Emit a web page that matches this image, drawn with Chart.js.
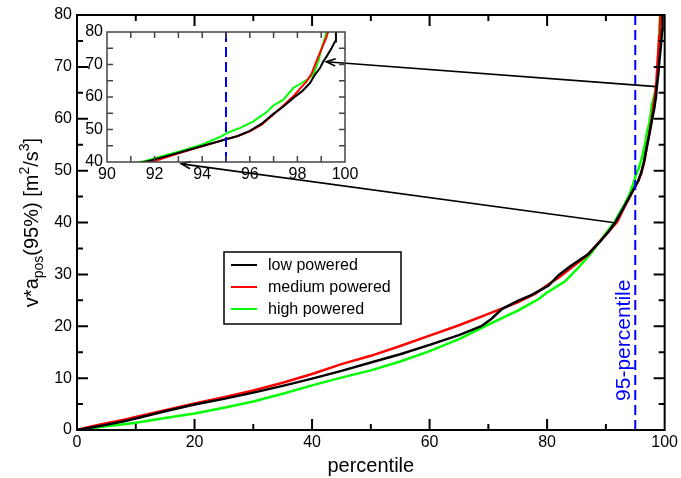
<!DOCTYPE html>
<html><head><meta charset="utf-8">
<script src="https://cdn.jsdelivr.net/npm/chart.js@4.4.0/dist/chart.umd.min.js"></script>
<style>
html,body{margin:0;padding:0;background:#fff;}
#wrap{position:relative;width:681px;height:478px;}
#wrap canvas{position:absolute;left:0;top:0;}
</style></head><body>
<div id="wrap"><canvas id="main" width="681" height="478"></canvas><canvas id="inset" width="681" height="478"></canvas></div>
<script>
// ---- data (percentile -> v*a_pos(95%) in m^2/s^3) ----
const seriesNames = ['low powered', 'medium powered', 'high powered'];
const seriesColors = ['#000000', '#ff0000', '#00ff00'];

const lowX = [0, 2, 5, 8, 10, 15, 20, 25, 30, 35, 40, 45, 50, 55, 60, 65, 68.8, 70.5, 72.3, 75, 77.3, 80.2, 82, 84, 86.9, 89, 90.5, 91.68, 92.5, 93.08, 94, 94.97, 95.5, 96.0, 96.5, 96.99, 97.4, 97.83, 98.2, 98.53, 98.74, 98.95, 99.09, 99.23, 99.44, 99.58, 99.62, 99.66];
const lowY = [0, 0.4, 1.0, 1.7, 2.2, 3.6, 4.9, 6.0, 7.2, 8.5, 9.9, 11.4, 13.0, 14.6, 16.4, 18.3, 20.0, 21.4, 23.3, 24.9, 26.0, 27.8, 29.9, 31.6, 33.8, 36.3, 38.3, 40.2, 41.8, 43.0, 44.9, 46.9, 48.0, 49.6, 51.8, 54.8, 57.0, 59.7, 61.8, 64.3, 66.9, 68.9, 71.0, 72.5, 75.1, 77.1, 80.2, 84];

const medX = [0, 2, 5, 8, 10, 15, 20, 25, 30, 35, 40, 45, 50, 55, 60, 65, 70, 75, 78, 80, 82, 84, 86.9, 89, 90.5, 91.96, 93.08, 94, 94.97, 95.5, 96.0, 96.5, 96.99, 97.4, 97.83, 98.1, 98.39, 98.6, 98.74, 98.9, 99.09, 99.2, 99.3, 99.4];
const medY = [0, 0.6, 1.3, 2.0, 2.5, 3.8, 5.1, 6.3, 7.6, 9.1, 10.8, 12.7, 14.3, 16.2, 18.2, 20.2, 22.4, 24.6, 26.3, 27.9, 29.4, 31.2, 33.7, 36.4, 38.3, 40.2, 42.8, 44.8, 46.9, 48.0, 49.4, 51.5, 54.6, 57.3, 60.2, 62.5, 64.8, 67.2, 69.9, 72.8, 76.1, 78.0, 80.2, 84];

const highX = [0, 2, 5, 8, 10, 15, 20, 25, 30, 35, 40, 45, 50, 55, 60, 65, 70, 75, 78.5, 80, 83, 85, 87.5, 89.5, 91.54, 92.3, 93.08, 94, 94.8, 95.03, 95.6, 96.15, 96.71, 96.99, 97.41, 97.83, 98.11, 98.46, 98.67, 98.88, 99.02, 99.16, 99.23, 99.3];
const highY = [0, 0.3, 0.7, 1.1, 1.4, 2.3, 3.2, 4.3, 5.5, 7.0, 8.6, 10.1, 11.5, 13.2, 15.2, 17.5, 20.3, 23.0, 25.2, 26.5, 28.6, 30.9, 34.1, 37.2, 40.2, 41.8, 43.3, 45.4, 47.9, 48.9, 50.5, 52.5, 55.4, 57.4, 59.2, 62.8, 64.0, 65.6, 66.9, 71.0, 75.1, 78.2, 80.4, 84];

const percentileMark = 95;
const percentileLabel = '95-percentile';
const xTickLabels = ['0', '20', '40', '60', '80', '100'];
const yTickLabels = ['0', '10', '20', '30', '40', '50', '60', '70', '80'];
const insetXTickLabels = ['90', '92', '94', '96', '98', '100'];
const insetYTickLabels = ['40', '50', '60', '70', '80'];
// arrows from main-curve points to the zoomed inset (main-chart data coordinates)
const arrowFrom = [[98.64, 66.2], [91.2, 40.0]];
const arrowTo = [[42.4, 71.0], [17.75, 51.3]];

const FONT = '"Liberation Sans", Arial, Helvetica, sans-serif';

function makeSets(lw) {
  const xs = [lowX, medX, highX], ys = [lowY, medY, highY];
  return seriesNames.map((n, i) => ({
    label: n,
    data: xs[i].map((x, j) => ({x: x, y: ys[i][j]})),
    borderColor: seriesColors[i], backgroundColor: seriesColors[i],
    borderWidth: lw, pointRadius: 0, showLine: true, tension: 0, fill: false
  }));
}

function drawArrow(ctx, x1, y1, x2, y2) {
  ctx.beginPath(); ctx.moveTo(x1, y1); ctx.lineTo(x2, y2); ctx.stroke();
  const ang = Math.atan2(y2 - y1, x2 - x1), L = 10, w = 0.38;
  ctx.beginPath();
  ctx.moveTo(x2 - L * Math.cos(ang - w), y2 - L * Math.sin(ang - w));
  ctx.lineTo(x2, y2);
  ctx.lineTo(x2 - L * Math.cos(ang + w), y2 - L * Math.sin(ang + w));
  ctx.stroke();
}

const mainDeco = {
  id: 'mainDeco',
  afterDatasetsDraw(chart) {
    const {ctx, chartArea: a, scales: {x, y}} = chart;
    ctx.save();
    // dashed percentile line
    const px = x.getPixelForValue(percentileMark);
    ctx.strokeStyle = '#0000ff'; ctx.lineWidth = 2; ctx.setLineDash([10, 5]);
    ctx.beginPath(); ctx.moveTo(px, a.bottom); ctx.lineTo(px, a.top); ctx.stroke();
    ctx.setLineDash([]);
    ctx.save();
    ctx.translate(px - 5, y.getPixelForValue(17.3)); ctx.rotate(-Math.PI / 2);
    ctx.fillStyle = '#0000ff'; ctx.font = '21px ' + FONT; ctx.textAlign = 'center'; ctx.textBaseline = 'alphabetic';
    ctx.fillText(percentileLabel, 0, 0);
    ctx.restore();
    // frame
    ctx.strokeStyle = '#000'; ctx.lineWidth = 2;
    ctx.strokeRect(a.left, a.top, a.width, a.height);
    // inward ticks
    ctx.lineWidth = 2;
    for (let v = 10; v < 100; v += 10) {
      const len = v % 20 === 0 ? 11 : 6, p = x.getPixelForValue(v);
      ctx.beginPath(); ctx.moveTo(p, a.bottom); ctx.lineTo(p, a.bottom - len);
      ctx.moveTo(p, a.top); ctx.lineTo(p, a.top + len); ctx.stroke();
    }
    for (let v = 5; v < 80; v += 5) {
      const len = v % 10 === 0 ? 11 : 6, p = y.getPixelForValue(v);
      ctx.beginPath(); ctx.moveTo(a.left, p); ctx.lineTo(a.left + len, p);
      ctx.moveTo(a.right, p); ctx.lineTo(a.right - len, p); ctx.stroke();
    }
    // arrows
    ctx.lineWidth = 1.6; ctx.strokeStyle = '#000';
    arrowFrom.forEach((f, i) => {
      const t = arrowTo[i];
      drawArrow(ctx, x.getPixelForValue(f[0]), y.getPixelForValue(f[1]), x.getPixelForValue(t[0]), y.getPixelForValue(t[1]));
    });
    // legend
    const lx = 224, ly = 252, lw = 177, lh = 72;
    ctx.fillStyle = '#fff'; ctx.fillRect(lx, ly, lw, lh);
    ctx.strokeStyle = '#000'; ctx.lineWidth = 1.5; ctx.strokeRect(lx, ly, lw, lh);
    ctx.font = '16px ' + FONT; ctx.textBaseline = 'middle'; ctx.textAlign = 'left';
    chart.data.datasets.forEach((ds, i) => {
      const ry = ly + 13 + i * 22;
      ctx.strokeStyle = ds.borderColor; ctx.lineWidth = 2;
      ctx.beginPath(); ctx.moveTo(lx + 7, ry); ctx.lineTo(lx + 33, ry); ctx.stroke();
      ctx.fillStyle = '#000'; ctx.fillText(ds.label, lx + 44, ry + 1);
    });
    // y-axis title with sub/superscripts
    const parts = [
      ['v*a', 20, 0], ['pos', 14, 5], ['(95%) [m', 20, 0], ['2', 14, -9], ['/s', 20, 0], ['3', 14, -9], [']', 20, 0]
    ];
    let total = 0;
    parts.forEach(p => { ctx.font = p[1] + 'px ' + FONT; total += ctx.measureText(p[0]).width; });
    ctx.save();
    ctx.translate(38, (a.top + a.bottom) / 2); ctx.rotate(-Math.PI / 2);
    ctx.fillStyle = '#000'; ctx.textBaseline = 'alphabetic'; ctx.textAlign = 'left';
    let cx = -total / 2;
    parts.forEach(p => { ctx.font = p[1] + 'px ' + FONT; ctx.fillText(p[0], cx, p[2]); cx += ctx.measureText(p[0]).width; });
    ctx.restore();
    ctx.restore();
  }
};

new Chart(document.getElementById('main'), {
  type: 'scatter',
  data: {datasets: makeSets(2.5)},
  options: {
    responsive: false, animation: false, events: [],
    layout: {padding: {left: 0, right: 14, top: 15, bottom: 0}},
    plugins: {legend: {display: false}, tooltip: {enabled: false}},
    scales: {
      x: {
        type: 'linear', min: 0, max: 100,
        afterBuildTicks: s => { s.ticks = xTickLabels.map(t => ({value: Number(t)})); },
        ticks: {font: {family: FONT, size: 16}, color: '#000', padding: 3, maxRotation: 0, autoSkip: false, callback: v => String(v)},
        grid: {display: false, drawTicks: false}, border: {display: false},
        title: {display: true, text: 'percentile', font: {family: FONT, size: 20}, color: '#000', padding: {top: 0, bottom: 0}},
        afterFit: s => { s.height = 48; }
      },
      y: {
        type: 'linear', min: 0, max: 80,
        afterBuildTicks: s => { s.ticks = yTickLabels.map(t => ({value: Number(t)})); },
        ticks: {font: {family: FONT, size: 16}, color: '#000', padding: 5, autoSkip: false, callback: v => String(v)},
        grid: {display: false, drawTicks: false}, border: {display: false},
        afterFit: s => { s.width = 77; }
      }
    }
  },
  plugins: [mainDeco]
});

const insetDeco = {
  id: 'insetDeco',
  afterDatasetsDraw(chart) {
    const {ctx, chartArea: a, scales: {x, y}} = chart;
    ctx.save();
    const px = x.getPixelForValue(percentileMark);
    ctx.strokeStyle = '#0000ff'; ctx.lineWidth = 2; ctx.setLineDash([10, 5]);
    ctx.beginPath(); ctx.moveTo(px, a.top); ctx.lineTo(px, a.bottom); ctx.stroke();
    ctx.setLineDash([]);
    ctx.strokeStyle = '#444'; ctx.lineWidth = 1.5;
    ctx.strokeRect(a.left, a.top, a.width, a.height);
    for (let v = 91; v < 100; v += 1) {
      const p = x.getPixelForValue(v);
      ctx.beginPath(); ctx.moveTo(p, a.bottom); ctx.lineTo(p, a.bottom - 6);
      ctx.moveTo(p, a.top); ctx.lineTo(p, a.top + 6); ctx.stroke();
    }
    for (let v = 45; v < 80; v += 5) {
      const p = y.getPixelForValue(v);
      ctx.beginPath(); ctx.moveTo(a.left, p); ctx.lineTo(a.left + 6, p);
      ctx.moveTo(a.right, p); ctx.lineTo(a.right - 6, p); ctx.stroke();
    }
    ctx.restore();
  }
};

new Chart(document.getElementById('inset'), {
  type: 'scatter',
  data: {datasets: makeSets(2)},
  options: {
    responsive: false, animation: false, events: [],
    layout: {padding: {left: 66, right: 336, top: 32, bottom: 296}},
    plugins: {legend: {display: false}, tooltip: {enabled: false}},
    scales: {
      x: {
        type: 'linear', min: 90, max: 100,
        afterBuildTicks: s => { s.ticks = insetXTickLabels.map(t => ({value: Number(t)})); },
        ticks: {font: {family: FONT, size: 16}, color: '#000', padding: 3, maxRotation: 0, autoSkip: false, callback: v => String(v)},
        grid: {display: false, drawTicks: false}, border: {display: false},
        afterFit: s => { s.height = 20; }
      },
      y: {
        type: 'linear', min: 40, max: 80,
        afterBuildTicks: s => { s.ticks = insetYTickLabels.map(t => ({value: Number(t)})); },
        ticks: {font: {family: FONT, size: 16}, color: '#000', padding: 4, autoSkip: false, callback: v => String(v)},
        grid: {display: false, drawTicks: false}, border: {display: false},
        afterFit: s => { s.width = 41; }
      }
    }
  },
  plugins: [insetDeco]
});
</script>
</body></html>
